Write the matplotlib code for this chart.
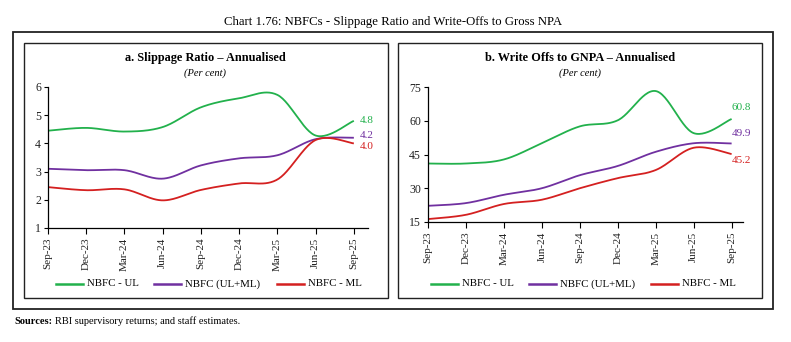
import numpy as np
import matplotlib
matplotlib.use("Agg")
import matplotlib.pyplot as plt
from matplotlib.patches import Rectangle
from matplotlib.lines import Line2D

plt.rcParams['font.family'] = ['Liberation Serif', 'DejaVu Serif']

quarters = ["Sep-23", "Dec-23", "Mar-24", "Jun-24", "Sep-24", "Dec-24", "Mar-25", "Jun-25", "Sep-25"]

slip_ul = [4.45, 4.55, 4.42, 4.58, 5.28, 5.6, 5.72, 4.28, 4.8]
slip_all = [3.1, 3.05, 3.05, 2.75, 3.22, 3.47, 3.58, 4.15, 4.2]
slip_ml = [2.45, 2.34, 2.37, 1.98, 2.35, 2.58, 2.72, 4.12, 4.0]

wo_ul = [41.0, 41.0, 42.8, 50.0, 57.5, 60.2, 73.2, 54.5, 60.8]
wo_all = [22.2, 23.4, 27.1, 30.0, 35.8, 39.9, 46.2, 50.0, 49.9]
wo_ml = [16.3, 18.2, 23.0, 24.9, 30.0, 34.5, 38.1, 48.0, 45.2]

series_names = ["NBFC - UL", "NBFC (UL+ML)", "NBFC - ML"]
colors = ["#22B14C", "#7030A0", "#D42020"]

W, H = 791, 342
fig = plt.figure(figsize=(W / 100, H / 100), dpi=100)


def px_axes(x0, y0, x1, y1):
    return fig.add_axes([x0 / W, 1 - y1 / H, (x1 - x0) / W, (y1 - y0) / H])


def smooth(y, n=30):
    x = np.arange(len(y), dtype=float)
    y = np.asarray(y, dtype=float)
    xs, ys = [], []
    for i in range(len(y) - 1):
        p0 = np.array([x[i], y[i]])
        p3 = np.array([x[i + 1], y[i + 1]])
        pm = np.array([x[i - 1], y[i - 1]]) if i > 0 else p0
        pp = np.array([x[i + 2], y[i + 2]]) if i + 2 < len(y) else p3
        c1 = p0 + (p3 - pm) / 6
        c2 = p3 - (pp - p0) / 6
        t = np.linspace(0, 1, n)[:, None]
        b = (1 - t) ** 3 * p0 + 3 * (1 - t) ** 2 * t * c1 + 3 * (1 - t) * t ** 2 * c2 + t ** 3 * p3
        if i > 0:
            b = b[1:]
        xs.append(b[:, 0])
        ys.append(b[:, 1])
    return np.concatenate(xs), np.concatenate(ys)


def panel(ax, data, ylim, yticks, xmax, labels, label_offsets):
    for d, c in zip(data, colors):
        sx, sy = smooth(d)
        ax.plot(sx, sy, color=c, lw=1.3, solid_capstyle='butt')
    ax.set_xlim(0, xmax)
    ax.set_ylim(*ylim)
    ax.set_yticks(yticks)
    ax.set_xticks(range(len(quarters)))
    ax.set_xticklabels(quarters, rotation=90, fontsize=8, color='#222222')
    ax.tick_params(axis='y', labelsize=8.5, labelcolor='#222222', direction='out', length=3, width=0.8, pad=2)
    ax.tick_params(axis='x', direction='out', length=4, width=0.8, pad=3)
    for s in ['top', 'right']:
        ax.spines[s].set_visible(False)
    for s in ['left', 'bottom']:
        ax.spines[s].set_linewidth(0.9)
    ax.patch.set_alpha(0)
    for d, c, lab, off in zip(data, colors, labels, label_offsets):
        ax.annotate(lab, (len(d) - 1, d[-1]), xytext=off, textcoords='offset points',
                    color=c, fontsize=8, va='center', ha='left')


# frames
fig.add_artist(Rectangle((13 / W, 1 - 309 / H), 760 / W, 277 / H, transform=fig.transFigure,
                         fill=False, ec='#222222', lw=1.3))
for x0 in (24, 398):
    fig.add_artist(Rectangle((x0 / W, 1 - 298 / H), 364 / W, 255 / H, transform=fig.transFigure,
                             fill=False, ec='#222222', lw=1.0))

ax1 = px_axes(48, 87, 368, 228)
panel(ax1, [slip_ul, slip_all, slip_ml], (1, 6), [1, 2, 3, 4, 5, 6], 8.37,
      ["4.8", "4.2", "4.0"], [(4, 0), (4, 1.5), (4, -2.5)])

ax2 = px_axes(428, 87, 743, 222)
panel(ax2, [wo_ul, wo_all, wo_ml], (15, 75), [15, 30, 45, 60, 75], 8.3,
      ["60.8", "49.9", "45.2"], [(0, 8), (0, 7.5), (0, -5)])

fig.text(393 / W, 1 - 22 / H, "Chart 1.76: NBFCs - Slippage Ratio and Write-Offs to Gross NPA",
         ha='center', va='center', fontsize=9.2)
fig.text(205 / W, 1 - 58 / H, "a. Slippage Ratio \u2013 Annualised", ha='center', va='center',
         fontsize=8.8, fontweight='bold')
fig.text(205 / W, 1 - 73 / H, "(Per cent)", ha='center', va='center', fontsize=7.5, style='italic')
fig.text(580 / W, 1 - 58 / H, "b. Write Offs to GNPA \u2013 Annualised", ha='center', va='center',
         fontsize=8.8, fontweight='bold')
fig.text(580 / W, 1 - 73 / H, "(Per cent)", ha='center', va='center', fontsize=7.5, style='italic')

# legends
leg_y = 1 - 284 / H
for starts in ([56, 154, 277], [431, 529, 651]):
    for s, name, c in zip(starts, series_names, colors):
        fig.add_artist(Line2D([s / W, (s + 27) / W], [leg_y, leg_y], transform=fig.transFigure,
                              color=c, lw=1.8))
        fig.text((s + 31) / W, leg_y, name, ha='left', va='center', fontsize=7.8)

t1 = fig.text(14 / W, 1 - 321 / H, "Sources:", ha='left', va='center', fontsize=7.5,
              fontweight='bold')
fig.canvas.draw()
bb = t1.get_window_extent()
fig.text((bb.x1 + 3) / W, 1 - 321 / H, "RBI supervisory returns; and staff estimates.",
         ha='left', va='center', fontsize=7.5)

fig.savefig("out.png", dpi=100)
